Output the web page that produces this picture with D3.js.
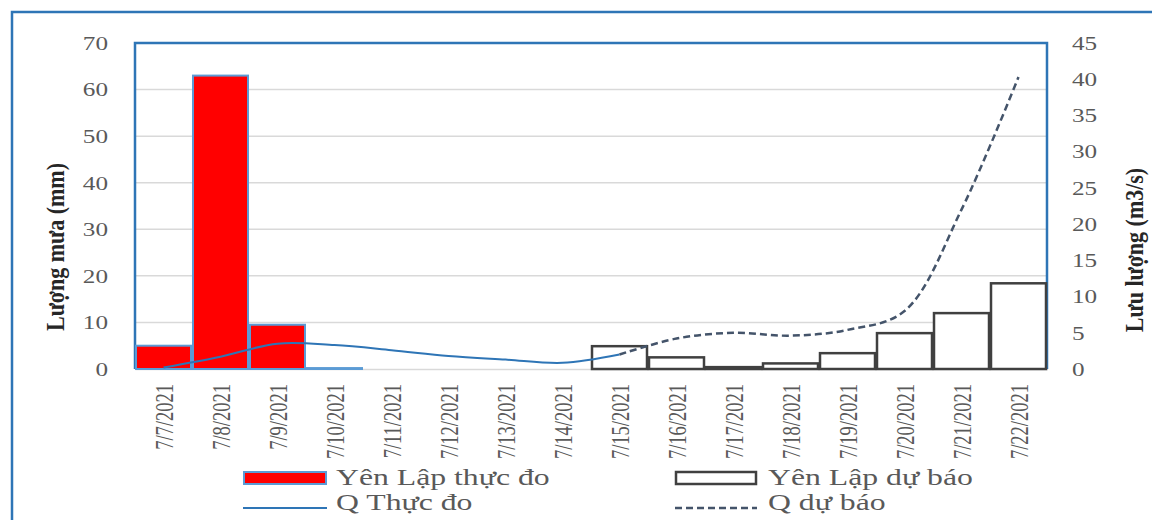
<!DOCTYPE html>
<html>
<head>
<meta charset="utf-8">
<script src="https://cdn.jsdelivr.net/npm/d3@7"></script>
<style>
  body { margin: 0; background: #fff; }
  svg#chart { display: block; }
  text { font-family: "Liberation Serif", "Times New Roman", serif; }
</style>
</head>
<body>
<svg id="chart" width="1152" height="520"></svg>
<script>
/* Data */
var dates = ["7/7/2021", "7/8/2021", "7/9/2021", "7/10/2021", "7/11/2021", "7/12/2021", "7/13/2021", "7/14/2021",
             "7/15/2021", "7/16/2021", "7/17/2021", "7/18/2021", "7/19/2021", "7/20/2021", "7/21/2021", "7/22/2021"];
var rainActual   = [5, 63, 9.5, 0.2, 0, 0, 0, 0, null, null, null, null, null, null, null, null];
var rainForecast = [null, null, null, null, null, null, null, null, 4.9, 2.5, 0.4, 1.2, 3.4, 7.7, 12, 18.4];
var flowActual   = [0.2, 1.7, 3.5, 3.3, 2.6, 1.8, 1.3, 0.85, 2.0, null, null, null, null, null, null, null];
var flowForecast = [null, null, null, null, null, null, null, null, 2.0, 4.2, 5.0, 4.6, 5.4, 8.0, 22, 40.3];
var rainTicks = [0, 10, 20, 30, 40, 50, 60, 70];
var flowTicks = [0, 5, 10, 15, 20, 25, 30, 35, 40, 45];
var seriesNames = ["Yên Lập thực đo", "Yên Lập dự báo", "Q Thực đo", "Q dự báo"];

/* Layout settings */
var defaultSet = {
    left : 135,
    right : 1047,
    top : 43,
    bottom : 369,
    frameBlue : "#2E75B6",
    lineBlue : "#2E75B6",
    barBlue : "#5B9BD5",
    dark : "#404040",
    dash : "#44546A",
    grid : "#d9d9d9",
    label : "#595959",
    stretch : 1.4
}

var svg = d3.select("svg#chart");

var x = d3.scaleBand()
  .domain(dates)
  .range([defaultSet.left, defaultSet.right])
  .padding(0);

var yRain = d3.scaleLinear().domain([0, 70]).range([defaultSet.bottom, defaultSet.top]);
var yFlow = d3.scaleLinear().domain([0, 45]).range([defaultSet.bottom, defaultSet.top]);

/* Outer frame */
svg.append("rect")
  .attr("x", 12).attr("y", 12)
  .attr("width", 1300).attr("height", 700)
  .attr("fill", "none")
  .attr("stroke", defaultSet.frameBlue)
  .attr("stroke-width", 2.5);

/* Gridlines */
svg.append("g")
  .selectAll("line")
  .data(rainTicks.slice(1, -1))
  .enter()
  .append("line")
  .attr("x1", defaultSet.left).attr("x2", defaultSet.right)
  .attr("y1", d => yRain(d)).attr("y2", d => yRain(d))
  .attr("stroke", defaultSet.grid)
  .attr("stroke-width", 1.5);

/* Left axis */
var axisL = svg.append("g")
  .attr("transform", `translate(${defaultSet.left},0)`)
  .call(d3.axisLeft(yRain).tickValues(rainTicks).tickSize(0).tickPadding(0));
axisL.select(".domain").remove();
axisL.selectAll("text")
  .attr("x", 0).attr("dy", "0.35em")
  .attr("transform", `translate(-27,0) scale(${defaultSet.stretch},1)`)
  .attr("fill", defaultSet.label)
  .style("font-size", "18px")
  .style("font-family", "Liberation Serif");

/* Right axis */
var axisR = svg.append("g")
  .attr("transform", `translate(${defaultSet.right},0)`)
  .call(d3.axisRight(yFlow).tickValues(flowTicks).tickSize(0).tickPadding(0));
axisR.select(".domain").remove();
axisR.selectAll("text")
  .attr("x", 0).attr("dy", "0.35em")
  .attr("transform", `translate(25,0) scale(${defaultSet.stretch},1)`)
  .attr("fill", defaultSet.label)
  .style("font-size", "18px")
  .style("font-family", "Liberation Serif");

/* Bottom axis */
var axisB = svg.append("g")
  .attr("transform", `translate(0,${defaultSet.bottom})`)
  .call(d3.axisBottom(x).tickSize(0).tickPadding(0));
axisB.select(".domain")
  .attr("stroke", defaultSet.grid)
  .attr("stroke-width", 1.5);
axisB.selectAll("text")
  .attr("x", 0).attr("y", 0).attr("dy", "0.35em")
  .attr("text-anchor", "end")
  .attr("transform", "translate(1,15) scale(1.35,1) rotate(-90)")
  .attr("fill", defaultSet.label)
  .style("font-size", "18.5px")
  .style("font-family", "Liberation Serif");

/* Plot border (blue on left, top, right) */
svg.append("path")
  .attr("d", `M${defaultSet.left},${defaultSet.bottom}V${defaultSet.top}H${defaultSet.right}V${defaultSet.bottom}`)
  .attr("fill", "none")
  .attr("stroke", defaultSet.frameBlue)
  .attr("stroke-width", 2.5);

/* Measured rain bars */
svg.append("g")
  .selectAll("rect")
  .data(dates.map((d, i) => ({date : d, value : rainActual[i]})).filter(d => d.value !== null))
  .enter()
  .append("rect")
  .attr("x", d => x(d.date) + 1)
  .attr("width", x.bandwidth() - 2)
  .attr("y", d => yRain(d.value))
  .attr("height", d => yRain(0) - yRain(d.value))
  .attr("fill", "#FF0000")
  .attr("stroke", defaultSet.barBlue)
  .attr("stroke-width", 2);

/* Forecast rain bars */
svg.append("g")
  .selectAll("rect")
  .data(dates.map((d, i) => ({date : d, value : rainForecast[i]})).filter(d => d.value !== null))
  .enter()
  .append("rect")
  .attr("x", d => x(d.date) + 1)
  .attr("width", x.bandwidth() - 2)
  .attr("y", d => yRain(d.value))
  .attr("height", d => yRain(0) - yRain(d.value))
  .attr("fill", "#ffffff")
  .attr("stroke", defaultSet.dark)
  .attr("stroke-width", 2.5);

/* Flow lines */
var line = d3.line()
  .defined(d => d.value !== null)
  .x(d => x(d.date) + x.bandwidth() / 2)
  .y(d => yFlow(d.value))
  .curve(d3.curveCatmullRom.alpha(0.5));

svg.append("path")
  .datum(dates.map((d, i) => ({date : d, value : flowActual[i]})))
  .attr("d", line)
  .attr("fill", "none")
  .attr("stroke", defaultSet.lineBlue)
  .attr("stroke-width", 2);

svg.append("path")
  .datum(dates.map((d, i) => ({date : d, value : flowForecast[i]})))
  .attr("d", line)
  .attr("fill", "none")
  .attr("stroke", defaultSet.dash)
  .attr("stroke-width", 2.5)
  .attr("stroke-dasharray", "7,4");

/* Axis titles */
svg.append("text")
  .text("Lượng mưa (mm)")
  .attr("text-anchor", "middle")
  .attr("dy", "0.35em")
  .attr("transform", "translate(55,247) scale(1.15,1) rotate(-90)")
  .attr("fill", "#262626")
  .style("font-weight", "bold")
  .style("font-size", "22px");

svg.append("text")
  .text("Lưu lượng (m3/s)")
  .attr("text-anchor", "middle")
  .attr("dy", "0.35em")
  .attr("transform", "translate(1134,250) scale(1.15,1) rotate(-90)")
  .attr("fill", "#262626")
  .style("font-weight", "bold")
  .style("font-size", "22px");

/* Legend */
var legendPos = [[243, 478], [675, 478], [243, 508], [675, 508]];
var legend = svg.append("g")
  .selectAll("g")
  .data(seriesNames)
  .enter()
  .append("g")
  .attr("transform", (d, i) => `translate(${legendPos[i][0]},${legendPos[i][1]})`);

legend.filter((d, i) => i === 0).append("rect")
  .attr("x", 1).attr("y", -6).attr("width", 82).attr("height", 12)
  .attr("fill", "#FF0000").attr("stroke", defaultSet.barBlue).attr("stroke-width", 2);
legend.filter((d, i) => i === 1).append("rect")
  .attr("x", 1).attr("y", -6).attr("width", 80).attr("height", 12)
  .attr("fill", "#ffffff").attr("stroke", defaultSet.dark).attr("stroke-width", 2.5);
legend.filter((d, i) => i === 2).append("line")
  .attr("x1", 0).attr("x2", 84).attr("y1", 0).attr("y2", 0)
  .attr("stroke", defaultSet.lineBlue).attr("stroke-width", 2);
legend.filter((d, i) => i === 3).append("line")
  .attr("x1", 0).attr("x2", 82).attr("y1", 0).attr("y2", 0)
  .attr("stroke", defaultSet.dash).attr("stroke-width", 2.5).attr("stroke-dasharray", "7,4");

legend.append("text")
  .text(d => d)
  .attr("dy", "0.35em")
  .attr("transform", (d, i) => `translate(93,${i < 2 ? -1 : -6}) scale(1.38,1)`)
  .attr("fill", defaultSet.label)
  .style("font-size", "23px");
</script>
</body>
</html>
